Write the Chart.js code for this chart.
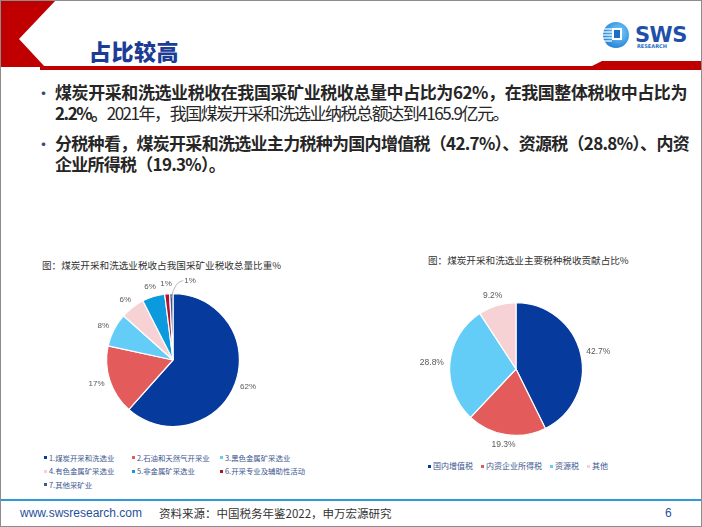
<!DOCTYPE html>
<html>
<head>
<meta charset="utf-8">
<script src="https://cdn.jsdelivr.net/npm/chart.js@4.4.1/dist/chart.umd.min.js"></script>
<style>
  html, body { margin: 0; padding: 0; background: #fff; }
  #slide { position: relative; width: 702px; height: 527px; overflow: hidden; background: #fff;
           font-family: "Noto Sans CJK SC", "Noto Sans", sans-serif; }
  #frame { position: absolute; left: 0; top: 0; width: 700px; height: 525px; border: 1px solid #8c8c8c; pointer-events: none; }
  #deco { position: absolute; left: 0; top: 0; }
  .h1 { position: absolute; left: 89px; top: 36px; font-size: 22px; font-weight: 900; color: #1c3c96; line-height: 28px; letter-spacing: 0.5px; }
  .bullet { position: absolute; left: 35px; font-size: 17px; color: #3a4a70; }
  .bl { position: absolute; left: 55px; font-size: 17px; line-height: 21px; color: #262626; white-space: nowrap; font-weight: 700; }
  .bl .n { font-weight: 400; }
  .ctitle { position: absolute; font-size: 9.6px; color: #333; white-space: nowrap; line-height: 12px; }
  canvas { position: absolute; }
  .legL { position: absolute; left: 44px; top: 451px; display: grid; grid-template-columns: 88px 88px 120px; grid-auto-rows: 13.5px; font-size: 7.4px; color: #3a568f; }
  .legR { position: absolute; left: 428px; top: 460px; display: flex; gap: 8px; font-size: 8px; color: #3a568f; }
  .li { display: flex; align-items: center; white-space: nowrap; line-height: 12px; }
  .li i { display: inline-block; width: 3px; height: 3px; margin-right: 2px; }
  .foot1 { position: absolute; left: 20px; top: 506px; font-family: "Liberation Sans", Arial, sans-serif; font-size: 12px; color: #1f4f9c; }
  .foot2 { position: absolute; left: 159px; top: 505px; font-size: 11.5px; color: #333; }
  .foot3 { position: absolute; left: 665px; top: 506px; font-family: "Liberation Sans", Arial, sans-serif; font-size: 12px; color: #1f4f9c; }
</style>
</head>
<body>
<div id="slide">
  <svg id="deco" width="702" height="527">
    <defs>
      <radialGradient id="lg" cx="0.6" cy="0.4" r="0.7">
        <stop offset="0" stop-color="#7fd3ff"/>
        <stop offset="1" stop-color="#1877d2"/>
      </radialGradient>
    </defs>
    <polygon points="0,0 56,0 19,39 45,67 0,67" fill="#c00000"/>
    <polygon points="40,66 592,66 602,61 702,61 702,70 40,70" fill="#c00000"/>
    <circle cx="616" cy="35" r="13" fill="url(#lg)"/>
    <g stroke="#fff" stroke-width="1.2">
      <line x1="603" y1="29" x2="612" y2="29"/>
      <line x1="603" y1="32" x2="612" y2="32"/>
      <line x1="603" y1="35" x2="612" y2="35"/>
      <line x1="603" y1="38" x2="612" y2="38"/>
      <line x1="603" y1="41" x2="612" y2="41"/>
    </g>
    <rect x="612" y="28" width="10" height="12" fill="#fff"/>
    <rect x="614" y="30" width="6" height="8" fill="#1b6fc8"/>
    <text x="635" y="42" font-family="DejaVu Sans, sans-serif" font-weight="bold" font-size="21" fill="#1f4fa8" letter-spacing="-0.5">SWS</text>
    <text x="637" y="48" font-family="DejaVu Sans, sans-serif" font-weight="bold" font-size="5" fill="#1f6fc8">RESEARCH</text>
    <rect x="0" y="499" width="702" height="2" fill="#2e9bd8"/>
  </svg>
  <div class="h1">占比较高</div>

  <div class="bullet" style="top:80px">•</div>
  <div class="bl" data-w="632" style="top:81px"><span>煤炭开采和洗选业税收在我国采矿业税收总量中占比为62%，在我国整体税收中占比为</span></div>
  <div class="bl" data-w="453" style="top:102px"><span>2.2%。<span class="n">2021年，我国煤炭开采和洗选业纳税总额达到4165.9亿元。</span></span></div>
  <div class="bullet" style="top:131px">•</div>
  <div class="bl" data-w="634" style="top:132px"><span>分税种看，煤炭开采和洗选业主力税种为国内增值税（42.7%）、资源税（28.8%）、内资</span></div>
  <div class="bl" data-w="170" style="top:153px"><span>企业所得税（19.3%）。</span></div>

  <div class="ctitle" style="left:42px; top:259px">图：煤炭开采和洗选业税收占我国采矿业税收总量比重%</div>
  <div class="ctitle" style="left:428px; top:254px">图：煤炭开采和洗选业主要税种税收贡献占比%</div>

  <canvas id="c1" width="330" height="200" style="left:20px; top:245px"></canvas>
  <canvas id="c2" width="320" height="210" style="left:380px; top:245px"></canvas>

  <div class="legL" id="legL"></div>
  <div class="legR" id="legR"></div>

  <div class="foot1">www.swsresearch.com</div>
  <div class="foot2">资料来源：中国税务年鉴2022，申万宏源研究</div>
  <div class="foot3">6</div>
  <div id="frame"></div>
</div>

<script>
// ---- data ----
const miningCategories = ["1.煤炭开采和洗选业", "2.石油和天然气开采业", "3.黑色金属矿采选业", "4.有色金属矿采选业", "5.非金属矿采选业", "6.开采专业及辅助性活动", "7.其他采矿业"];
const miningShare = [61.6, 16.8, 8.2, 5.9, 5.5, 1.2, 0.8];
const miningColors = ["#063a9c", "#e35b5b", "#63cdf8", "#f6d2d5", "#0c9ade", "#b0142c", "#3d5a8c"];

const taxCategories = ["国内增值税", "内资企业所得税", "资源税", "其他"];
const taxShare = [42.7, 19.3, 28.8, 9.2];
const taxColors = ["#063a9c", "#e35b5b", "#63cdf8", "#f6d2d5"];

// ---- fit bullet lines to their measured widths in the reference ----
document.querySelectorAll('.bl').forEach(el => {
  const span = el.firstElementChild;
  const target = parseFloat(el.dataset.w);
  const w = span.getBoundingClientRect().width;
  const n = span.textContent.length;
  el.style.letterSpacing = ((target - w) / n) + 'px';
});

// ---- outside-end labels plugin ----
const outLabels = {
  id: 'outLabels',
  afterDatasetsDraw(chart, args, opts) {
    const ctx = chart.ctx;
    const meta = chart.getDatasetMeta(0);
    const data = chart.data.datasets[0].data;
    ctx.save();
    ctx.font = opts.font;
    ctx.fillStyle = '#595959';
    ctx.textAlign = 'center';
    ctx.textBaseline = 'middle';
    meta.data.forEach((arc, i) => {
      const p = arc.getProps(['x', 'y', 'startAngle', 'endAngle', 'outerRadius'], true);
      const mid = (p.startAngle + p.endAngle) / 2;
      const cs = Math.cos(mid), sn = Math.sin(mid);
      const txt = opts.format(data[i]);
      const w = ctx.measureText(txt).width, h = opts.size;
      let px = p.x + (p.outerRadius + opts.gap) * cs;
      let py = p.y + (p.outerRadius + opts.gap) * sn;
      let cx = px + cs * w / 2, cy = py + sn * h / 2;
      if (opts.leaderBelow && data[i] < opts.leaderBelow) {
        const ex = p.x + (p.outerRadius - 4) * cs, ey = p.y + (p.outerRadius - 4) * sn;
        cx += 19; cy -= 3;
        ctx.strokeStyle = '#a6a6a6';
        ctx.lineWidth = 0.8;
        ctx.beginPath();
        ctx.moveTo(ex, ey);
        ctx.quadraticCurveTo(ex + 3, cy + 1, cx - w / 2 - 1, cy);
        ctx.stroke();
      }
      ctx.fillText(txt, cx, cy);
    });
    ctx.restore();
  }
};

function makePie(id, labels, values, colors, padding, labelOpts) {
  return new Chart(document.getElementById(id), {
    type: 'pie',
    data: { labels, datasets: [{ data: values, backgroundColor: colors, borderColor: '#ffffff', borderWidth: 1.2 }] },
    options: {
      responsive: false,
      animation: false,
      rotation: 0,
      layout: { padding },
      plugins: { legend: { display: false }, tooltip: { enabled: false }, title: { display: false }, outLabels: labelOpts }
    },
    plugins: [outLabels]
  });
}

makePie('c1', miningCategories, miningShare, miningColors,
  { left: 86, right: 110, top: 48, bottom: 18 },
  { font: '8px "Liberation Sans", Arial, sans-serif', size: 8, gap: 6, leaderBelow: 1, format: v => Math.round(v) + '%' });

makePie('c2', taxCategories, taxShare, taxColors,
  { left: 69, right: 117, top: 57, bottom: 19 },
  { font: '8.5px "Liberation Sans", Arial, sans-serif', size: 8.5, gap: 6, format: v => v.toFixed(1) + '%' });

// ---- legends from data ----
function buildLegend(elId, labels, colors) {
  const el = document.getElementById(elId);
  labels.forEach((l, i) => {
    const d = document.createElement('div');
    d.className = 'li';
    const m = document.createElement('i');
    m.style.background = colors[i];
    d.appendChild(m);
    d.appendChild(document.createTextNode(l));
    el.appendChild(d);
  });
}
buildLegend('legL', miningCategories, miningColors);
buildLegend('legR', taxCategories, taxColors);
</script>
</body>
</html>
